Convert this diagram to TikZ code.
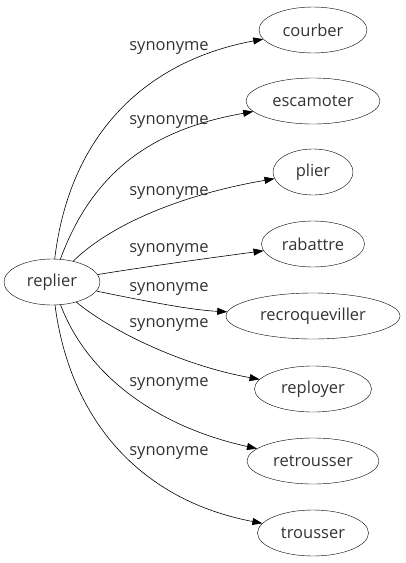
\documentclass[tikz,border=0pt]{standalone}
\usepackage{fontspec}
\setmainfont{Open Sans}
\usetikzlibrary{shapes.geometric,arrows.meta}

\tikzset{
    word/.style={draw, ellipse, minimum height=46, inner sep=0pt, text=black!80,
        font=\fontsize{16.5}{19}\selectfont},
    syn/.style={text=black!80, font=\fontsize{16.5}{19}\selectfont},
    link/.style={-{Triangle[length=10pt,width=7pt]}, line width=0.6pt},
}

\begin{document}
\begin{tikzpicture}[x=1pt, y=-1pt]
    \useasboundingbox (0,0) rectangle (406,563);

    % Source word
    \node[word, minimum width=96] (replier) at (52,282) {replier};

    % Synonyms, one row each
    \foreach \name/\w/\y in {courber/108/30, escamoter/134/101, plier/80/172,
        rabattre/103/244, recroqueviller/174/316, reployer/117/389,
        retrousser/132/461, trousser/111/533} {
        \node[word, minimum width=\w] (\name) at (313,\y) {\name};
    }

    % Links: control points and label height
    \foreach \name/\ax/\ay/\bx/\by/\ly in {courber/70/130/150/60/48,
        escamoter/95/165/160/128/122, plier/110/225/180/195/193,
        rabattre/150/266/210/258/250, recroqueviller/140/300/190/310/289,
        reployer/110/330/180/365/325, retrousser/85/370/150/425/384,
        trousser/70/420/140/500/453} {
        \draw[link] (replier) .. controls (\ax,\ay) and (\bx,\by) .. (\name);
        \node[syn] (syn\name) at (169,\ly) {synonyme};
    }
\end{tikzpicture}
\end{document}
